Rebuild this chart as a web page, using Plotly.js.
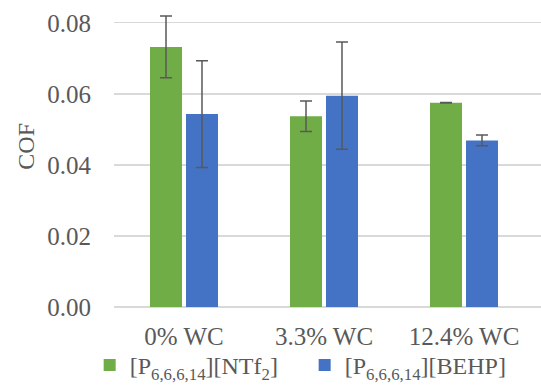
<!DOCTYPE html>
<html>
<head>
<meta charset="utf-8">
<script src="https://cdn.plot.ly/plotly-3.0.1.min.js"></script>
<style>html,body{margin:0;padding:0;background:#fff;overflow:hidden;}#chart{width:541px;height:388px;}
#chart svg text{font-family:"Liberation Serif","Times New Roman",serif !important;}</style>
</head>
<body>
<div id="chart"></div>
<script>
var categories = ["0% WC", "3.3% WC", "12.4% WC"];
var seriesNames = ["[P<sub>6,6,6,14</sub>][NTf<sub>2</sub>]", "[P<sub>6,6,6,14</sub>][BEHP]"];
var ntf2Values = [0.0732, 0.0537, 0.0575];
var ntf2Errors = [0.0087, 0.0043, 0.0001];
var behpValues = [0.0543, 0.0595, 0.0469];
var behpErrors = [0.0150, 0.0151, 0.0015];
var yTicks = [0, 0.02, 0.04, 0.06, 0.08];
var yTickLabels = ["0.00", "0.02", "0.04", "0.06", "0.08"];

var FAM = "Times New Roman";
function mkFont(size) { return {family: FAM, color: "#595959", size: size}; }
function mkErr(arr) { return {type: "data", visible: true, array: arr, color: "#595959", thickness: 1.5, width: 6}; }

var traces = [
  {type: "bar", name: seriesNames[0], x: categories, y: ntf2Values,
   marker: {color: "#70AD47"}, error_y: mkErr(ntf2Errors)},
  {type: "bar", name: seriesNames[1], x: categories, y: behpValues,
   marker: {color: "#4472C4"}, error_y: mkErr(behpErrors)}
];

var layout = {
  width: 541, height: 388,
  margin: {l: 114, r: 0, t: 15, b: 0},
  paper_bgcolor: "#fff", plot_bgcolor: "#fff",
  font: mkFont(25),
  barmode: "group",
  bargap: 0.486,
  bargroupgap: 0.11,
  showlegend: true,
  legend: {orientation: "h", x: -0.057, xanchor: "left", y: -0.0001, yanchor: "bottom",
           bgcolor: "rgba(0,0,0,0)", entrywidth: 170,
           font: mkFont(24), itemwidth: 30, traceorder: "normal"},
  xaxis: {range: [-0.5, 2.55], type: "category", showgrid: false, zeroline: false,
          showline: false, ticks: "", tickfont: mkFont(25), automargin: false, ticklabelstandoff: 12},
  yaxis: {range: [0, 0.0822], domain: [0.2172, 1], tickvals: yTicks, ticktext: yTickLabels,
          showgrid: true, gridcolor: "#D9D9D9", gridwidth: 1.3, zeroline: true,
          zerolinecolor: "#D9D9D9", zerolinewidth: 1.5, showline: false, ticks: "",
          ticklabelstandoff: 22, tickfont: mkFont(25), automargin: false},
  annotations: [{text: "COF", xref: "paper", yref: "paper", x: -0.206, y: 0.647,
                 xanchor: "center", yanchor: "middle",
                 textangle: -90, showarrow: false, font: mkFont(24)}]
};

Plotly.newPlot("chart", traces, layout, {displayModeBar: false, staticPlot: true});
</script>
</body>
</html>
